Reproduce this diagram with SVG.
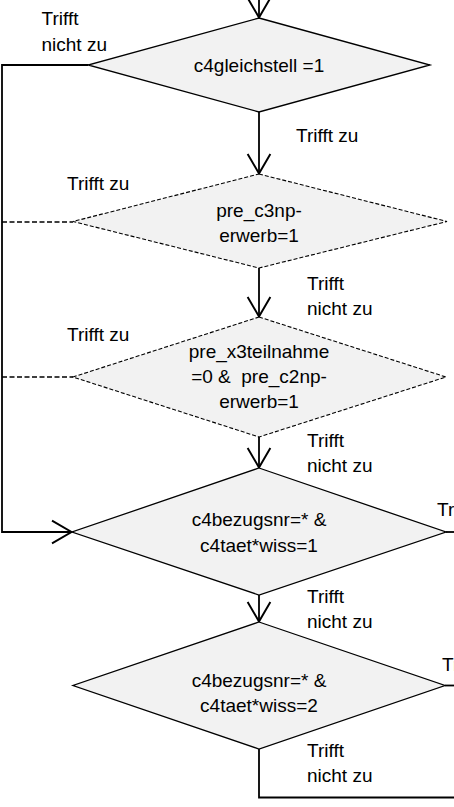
<svg xmlns="http://www.w3.org/2000/svg" width="454" height="807" viewBox="0 0 454 807">
<style>
text{font-family:"Liberation Sans",Arial,sans-serif;font-size:19px;fill:#000;white-space:pre}
.c{text-anchor:middle}
.d{fill:#f2f2f2;stroke:#000;stroke-width:1.3}
.dd{fill:#f2f2f2;stroke:#000;stroke-width:1.1;stroke-dasharray:4 2}
.ln{fill:none;stroke:#000;stroke-width:1.8}
.dl{fill:none;stroke:#000;stroke-width:1.4;stroke-dasharray:5 2.5}
</style>
<defs>
<marker id="ah" markerUnits="userSpaceOnUse" markerWidth="24" markerHeight="26" viewBox="-20 -12 22 24" refX="0" refY="0" orient="auto">
<path d="M-18,-10.5 L0,0 L-18,10.5" fill="none" stroke="#000" stroke-width="1.8"/>
</marker>
</defs>
<g id="connectors">
<line class="ln" x1="259" y1="-2" x2="259" y2="17.5" marker-end="url(#ah)"/>
<polyline class="ln" points="88,65 2,65 2,532 71.5,532" marker-end="url(#ah)"/>
<line class="ln" x1="259" y1="112" x2="259" y2="173.5" marker-end="url(#ah)"/>
<line class="dl" x1="2" y1="222" x2="73" y2="222"/>
<line class="ln" x1="259" y1="268" x2="259" y2="316.5" marker-end="url(#ah)"/>
<line class="dl" x1="2" y1="377" x2="73" y2="377"/>
<line class="ln" x1="259" y1="437" x2="259" y2="467.5" marker-end="url(#ah)"/>
<line class="ln" x1="446" y1="532" x2="456" y2="532"/>
<line class="ln" x1="259" y1="595" x2="259" y2="621.5" marker-end="url(#ah)"/>
<line class="ln" x1="445" y1="685.5" x2="456" y2="685.5"/>
<polyline class="ln" points="259,749 259,797.5 456,797.5"/>
</g>
<g id="labels">
<text x="41.5" y="25">Trifft</text>
<text x="41.5" y="50.5">nicht zu</text>
<text x="296" y="141.5">Trifft zu</text>
<text x="67" y="190">Trifft zu</text>
<text x="307" y="290">Trifft</text>
<text x="307" y="315">nicht zu</text>
<text x="67" y="341">Trifft zu</text>
<text x="307" y="447">Trifft</text>
<text x="307" y="472">nicht zu</text>
<text x="437" y="516">Trifft zu</text>
<text x="307" y="603">Trifft</text>
<text x="307" y="628">nicht zu</text>
<text x="442" y="670.5">Trifft zu</text>
<text x="307" y="757">Trifft</text>
<text x="307" y="782">nicht zu</text>
</g>
<g id="n1">
<polygon class="d" points="259,18 430,65 259,112 88,65"/>
<text class="c" x="259" y="72">c4gleichstell =1</text>
</g>
<g id="n2">
<polygon class="dd" points="259,174 447,221.5 259,268 73,221.5"/>
<text class="c" x="259" y="217">pre_c3np-</text>
<text class="c" x="259" y="242">erwerb=1</text>
</g>
<g id="n3">
<polygon class="dd" points="259,317 446,377 259,437 73,377"/>
<text class="c" x="259" y="358">pre_x3teilnahme</text>
<text class="c" x="259" y="383" xml:space="preserve">=0 &amp;  pre_c2np-</text>
<text class="c" x="259" y="408">erwerb=1</text>
</g>
<g id="n4">
<polygon class="d" points="259,468 446,532 259,595 72,532"/>
<text class="c" x="259" y="526">c4bezugsnr=* &amp;</text>
<text class="c" x="259" y="552">c4taet*wiss=1</text>
</g>
<g id="n5">
<polygon class="d" points="259,622 445,685.5 259,749 73,685.5"/>
<text class="c" x="259" y="687">c4bezugsnr=* &amp;</text>
<text class="c" x="259" y="712">c4taet*wiss=2</text>
</g>
</svg>
